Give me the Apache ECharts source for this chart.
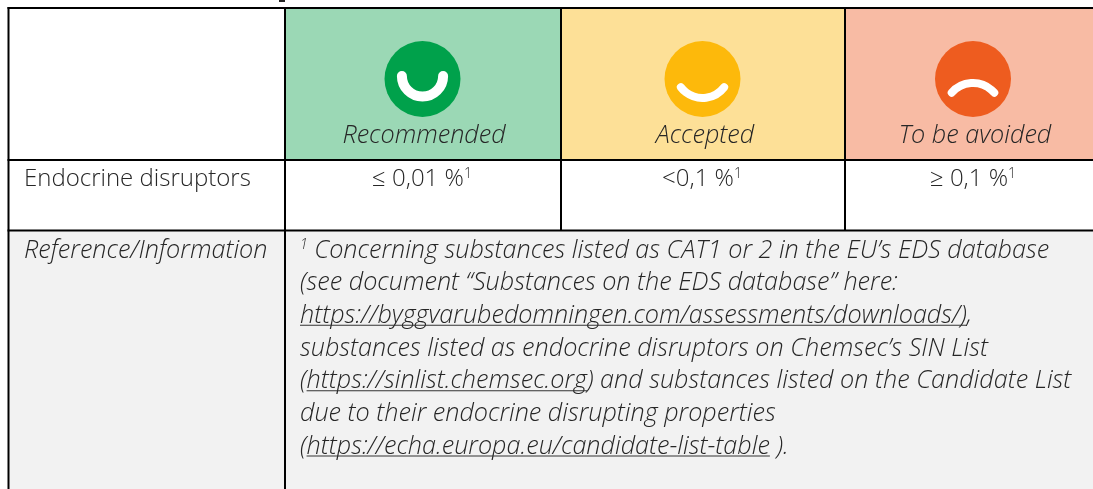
<!DOCTYPE html>
<html>
<head>
<meta charset="utf-8">
<title>Endocrine disruptors</title>
<script src="https://cdn.jsdelivr.net/npm/echarts@6/dist/echarts.min.js"></script>
<style>
  html, body { margin: 0; padding: 0; background: #fff; }
  #main { width: 1093px; height: 489px; }
</style>
</head>
<body>
<div id="main"></div>
<script>
// table content
var headers = ['Recommended', 'Accepted', 'To be avoided'];
var moods = ['happy', 'ok', 'sad'];
var limits = ['≤ 0,01 %', '<0,1 %', '≥ 0,1 %'];
var limitNotes = ['1', '1', '1'];
var rowLabels = ['Endocrine disruptors', 'Reference/Information'];
// s = plain text, u = underlined, n = footnote mark
var noteLines = [
  [['n', '1'], ['s', ' Concerning substances listed as CAT1 or 2 in the EU’s EDS database']],
  [['s', '(see document “Substances on the EDS database” here:']],
  [['u', 'https://byggvarubedomningen.com/assessments/downloads/)'], ['s', ',']],
  [['s', 'substances listed as endocrine disruptors on Chemsec’s SIN List']],
  [['s', '('], ['u', 'https://sinlist.chemsec.org'], ['s', ') and substances listed on the Candidate List']],
  [['s', 'due to their endocrine disrupting properties']],
  [['s', '('], ['u', 'https://echa.europa.eu/candidate-list-table'], ['s', ' ).']]
];

// layout, in px of the picture
var colX = [8.5, 285, 561, 845, 1093];
var rowY = [8, 160, 230.5, 489];
var faceX = [422.5, 702.5, 973];
var headerX = [424, 705, 975];
var limitX = [422, 702, 973];
var noteY = [250.5, 283.2, 315.8, 348.5, 381.2, 413.8, 446.5];
var headFill = ['#9bd8b5', '#fde097', '#f8bba4'];
var faceFill = ['#00a14b', '#fdb90b', '#ee5c1f'];
var faceShape = {
  happy: { dy: -3, r: 20.6, mid: Math.PI / 2, half: Math.PI / 2, width: 10 },
  ok: { dy: -8.2, r: 27.2, mid: Math.PI / 2, half: 0.92, width: 8 },
  sad: { dy: 32.2, r: 28.2, mid: -Math.PI / 2, half: 0.855, width: 8 }
};
var ink = '#262626';
var family = '"Open Sans"';
var plainSize = 24;
var italicSize = 25.2;
var markSize = 14;

var ctx = document.createElement('canvas').getContext('2d');
function textWidth(s, italic, size) {
  ctx.font = (italic ? 'italic ' : '') + '300 ' + size + 'px ' + family;
  return ctx.measureText(s).width;
}
function textEl(api, s, x, y, o) {
  var p = api.coord([x, y]);
  return {
    type: 'text', x: p[0], y: p[1], silent: true,
    style: {
      text: s, fill: o.fill || ink, fontFamily: family, fontWeight: 300,
      fontStyle: o.italic ? 'italic' : 'normal', fontSize: o.size,
      align: o.align || 'left', verticalAlign: 'middle'
    }
  };
}
function rectEl(api, x0, y0, x1, y1, fill) {
  var a = api.coord([x0, y0]), b = api.coord([x1, y1]);
  return { type: 'rect', silent: true, shape: { x: a[0], y: a[1], width: b[0] - a[0], height: b[1] - a[1] }, style: { fill: fill } };
}

function renderTable(params, api) {
  var kids = [];
  // cell fills
  kids.push(rectEl(api, colX[0], rowY[2], colX[4], rowY[3], '#f2f2f2'));
  headers.forEach(function (h, i) {
    kids.push(rectEl(api, colX[i + 1], rowY[0], colX[i + 2], rowY[1], headFill[i]));
  });
  // grid lines, the last row is merged over the three right columns
  colX.slice(0, 4).forEach(function (x, i) {
    kids.push(rectEl(api, x - 1, rowY[0] - 1, x + 1, i < 2 ? rowY[3] : rowY[2], '#000'));
  });
  rowY.slice(0, 3).forEach(function (y) {
    kids.push(rectEl(api, colX[0] - 1, y - 1, colX[4], y + 1, '#000'));
  });
  // piece of the heading cut off by the crop
  kids.push(rectEl(api, 279, 0, 285, 2, '#222'));
  // faces
  moods.forEach(function (m, i) {
    var c = api.coord([faceX[i], 79]), f = faceShape[m];
    kids.push({ type: 'circle', silent: true, shape: { cx: c[0], cy: c[1], r: 38 }, style: { fill: faceFill[i] } });
    kids.push({
      type: 'arc', silent: true,
      shape: { cx: c[0], cy: c[1] + f.dy, r: f.r, startAngle: f.mid - f.half, endAngle: f.mid + f.half, clockwise: true },
      style: { stroke: '#fff', fill: null, lineWidth: f.width, lineCap: 'round' }
    });
    kids.push(textEl(api, headers[i], headerX[i], 135.5, { italic: true, size: italicSize, align: 'center' }));
    // limit value plus footnote mark
    var w = textWidth(limits[i], false, plainSize), n = textWidth(limitNotes[i], false, markSize);
    var x0 = limitX[i] - (w + n) / 2;
    kids.push(textEl(api, limits[i], x0, 179, { size: plainSize }));
    kids.push(textEl(api, limitNotes[i], x0 + w, 174, { size: markSize }));
  });
  // row labels
  kids.push(textEl(api, rowLabels[0], 24, 179, { size: plainSize }));
  kids.push(textEl(api, rowLabels[1], 24, 250.5, { italic: true, size: italicSize }));
  // note
  noteLines.forEach(function (line, i) {
    var x = 300;
    line.forEach(function (seg) {
      var size = seg[0] === 'n' ? markSize : italicSize;
      var w = textWidth(seg[1], true, size);
      kids.push(textEl(api, seg[1], x, noteY[i] - (seg[0] === 'n' ? 5 : 0), { italic: true, size: size }));
      if (seg[0] === 'u') {
        kids.push(rectEl(api, x, noteY[i] + 9, x + w, noteY[i] + 10, '#333'));
      }
      x += w;
    });
  });
  return { type: 'group', children: kids };
}

var chart = echarts.init(document.getElementById('main'));
chart.setOption({
  animation: false,
  grid: { left: 0, right: 0, top: 0, bottom: 0 },
  xAxis: { type: 'value', min: 0, max: 1093, show: false },
  yAxis: { type: 'value', min: 0, max: 489, inverse: true, show: false },
  series: [{ type: 'custom', silent: true, clip: false, data: [[0, 0]], renderItem: renderTable }]
});
</script>
</body>
</html>
